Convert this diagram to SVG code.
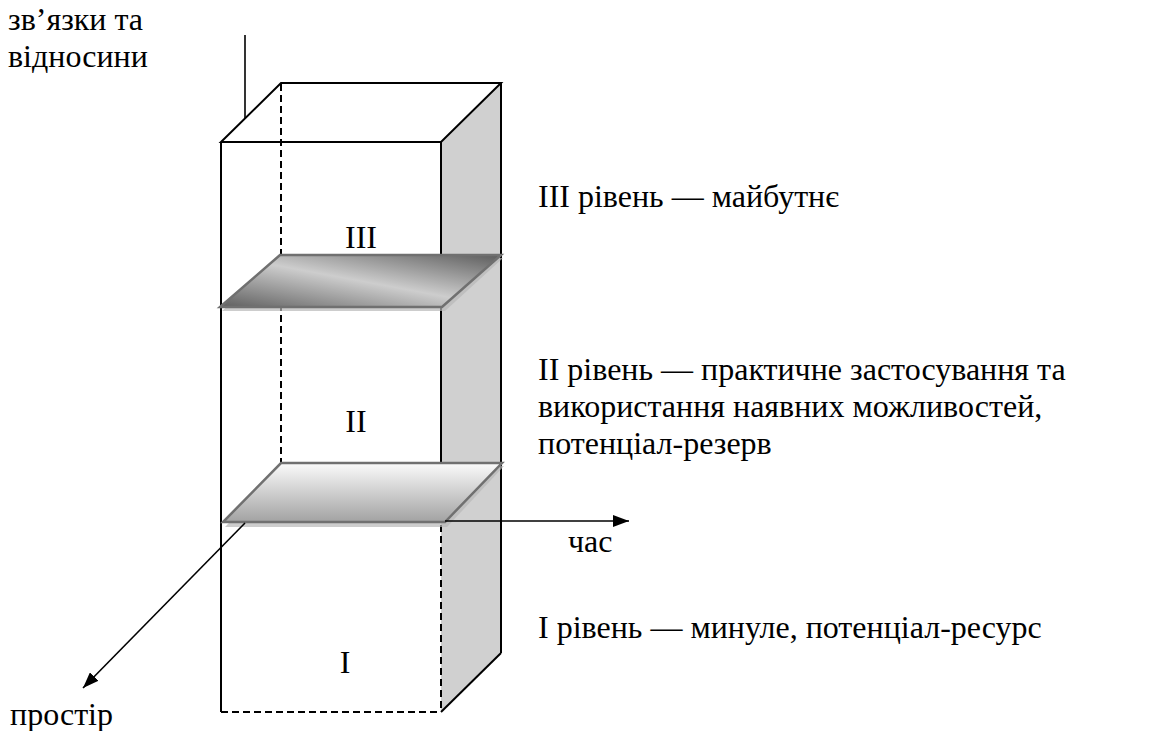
<svg xmlns="http://www.w3.org/2000/svg" width="1160" height="731" viewBox="0 0 1160 731">
<style>
.lbl{fill:#000}
.edge{stroke:#000;stroke-width:2;fill:none}
.dash{stroke:#000;stroke-width:2;fill:none;stroke-dasharray:7 4}
.plane{stroke:#707070;stroke-width:2.5}
.shadow{fill:#b8b8b8;opacity:0.7}
.conn{stroke:#000;stroke-width:1.6;fill:none}
</style>
<defs>
<linearGradient id="g3" x1="1" y1="0" x2="0" y2="1">
<stop offset="0" stop-color="#5c5c5c"/>
<stop offset="0.5" stop-color="#cdcdcd"/>
<stop offset="1" stop-color="#5f5f5f"/>
</linearGradient>
<linearGradient id="g2" x1="0" y1="0" x2="0" y2="1">
<stop offset="0" stop-color="#fbfbfb"/>
<stop offset="1" stop-color="#a2a2a2"/>
</linearGradient>
<marker id="arrL" viewBox="0 0 16 12" refX="16" refY="6" markerWidth="16" markerHeight="12" markerUnits="userSpaceOnUse" orient="auto">
<path d="M0,0 L16,6 L0,12 z" fill="#000"/>
</marker>
</defs>

<g id="box">
<polygon points="441,142 501,83 501,653 441,712" fill="#d0d0d0" stroke="none"/>
<line class="edge" x1="501" y1="83" x2="501" y2="653"/>
<line class="edge" x1="501" y1="653" x2="441" y2="712"/>
<polygon points="221,142 281,83 501,83 441,142" fill="#fff" class="edge"/>
<line class="edge" x1="221" y1="142" x2="221" y2="712"/>
<line class="edge" x1="441" y1="142" x2="441" y2="463"/>
<line class="dash" x1="281" y1="84" x2="281" y2="463"/>
<line class="dash" x1="441" y1="525" x2="441" y2="712"/>
<line class="dash" x1="221" y1="712" x2="441" y2="712"/>
</g>

<g id="plane-III">
<polygon class="shadow" points="281,258 503,258 445,311 222,311"/>
<polygon class="plane" points="280,255 501,255 442,307 220,307" fill="url(#g3)"/>
</g>

<g id="plane-II">
<polygon class="shadow" points="284,466 504,466 447,527 225,527"/>
<polygon class="plane" points="281,463 502,463 445,522 223,522" fill="url(#g2)"/>
</g>

<g id="connectors">
<line class="conn" x1="245" y1="35" x2="245" y2="118"/>
<line class="conn" x1="445" y1="521" x2="629" y2="521" marker-end="url(#arrL)"/>
<line class="conn" x1="245" y1="523" x2="83" y2="688" marker-end="url(#arrL)"/>
</g>

<g id="labels" font-size="32">
<text class="lbl" font-family="Times" x="8" y="30">зв’язки та</text>
<text class="lbl" font-family="Times" x="8" y="67">відносини</text>
<text class="lbl" font-family="Times" x="361" y="248" text-anchor="middle">III</text>
<text class="lbl" font-family="Times" x="356" y="432" text-anchor="middle">II</text>
<text class="lbl" font-family="Times" x="345" y="673" text-anchor="middle">I</text>
<text class="lbl" font-family="Times" x="538" y="207">III рівень — майбутнє</text>
<text class="lbl" font-family="Times" x="538" y="380">II рівень — практичне застосування та</text>
<text class="lbl" font-family="Times" x="538" y="417">використання наявних можливостей,</text>
<text class="lbl" font-family="Times" x="538" y="454">потенціал-резерв</text>
<text class="lbl" font-family="Times" x="538" y="638">I рівень — минуле, потенціал-ресурс</text>
<text class="lbl" font-family="Times" x="568" y="552">час</text>
<text class="lbl" font-family="Times" x="10" y="725">простір</text>
</g>
</svg>
